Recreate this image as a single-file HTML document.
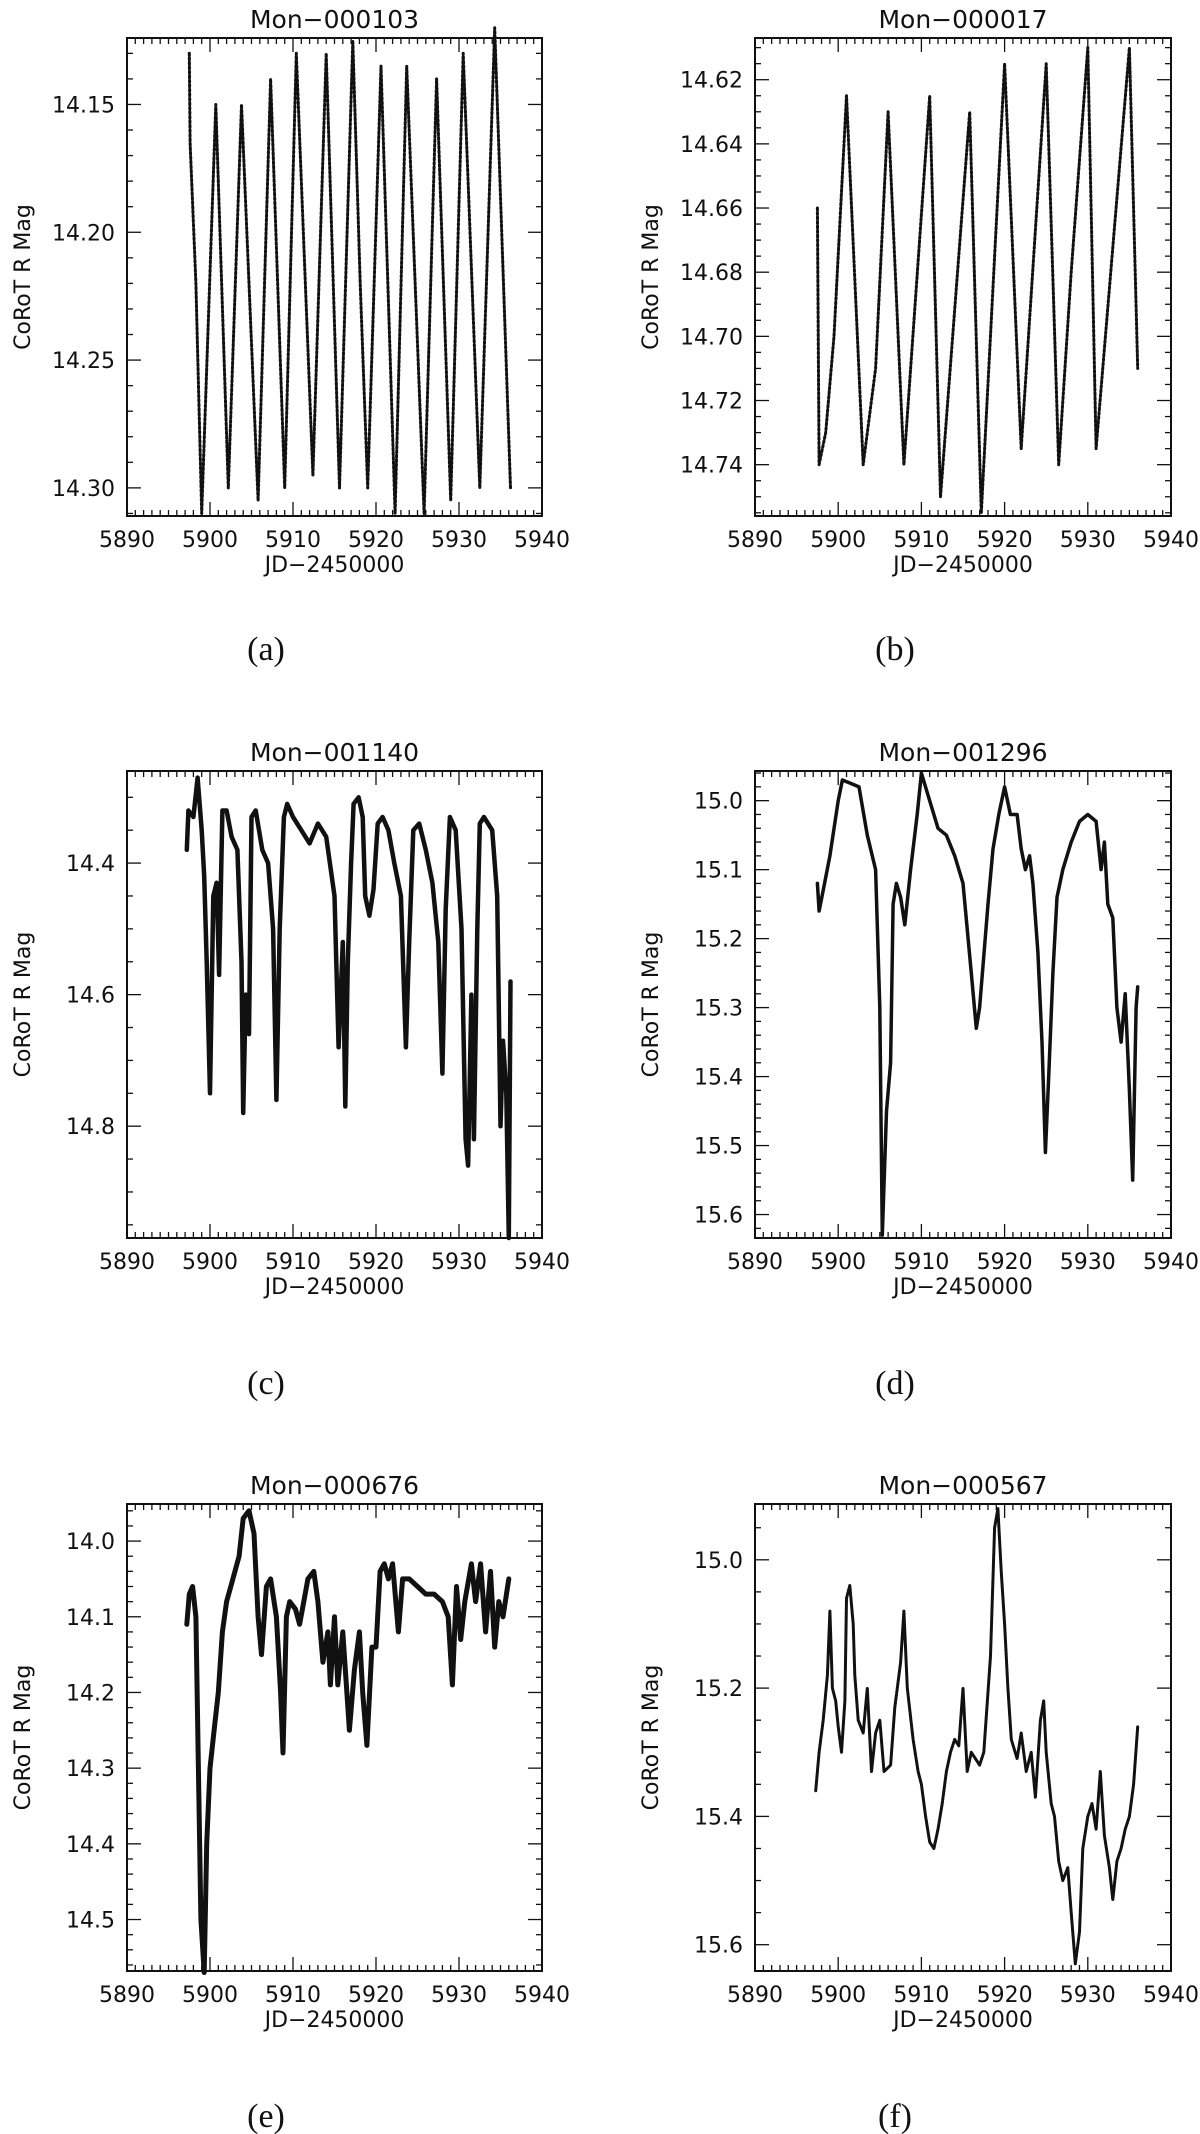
<!DOCTYPE html>
<html><head><meta charset="utf-8"><style>
html,body{margin:0;padding:0;background:#fff;}
svg{display:block;}
text{font-family:"DejaVu Sans","Liberation Sans",sans-serif;fill:#111;}
.cap{font-family:"Liberation Serif",serif;}
</style></head><body>
<svg id="fig" width="1200" height="2134" viewBox="0 0 1200 2134" xmlns="http://www.w3.org/2000/svg"></svg>
<script>
const xTickLabels = [5890,5900,5910,5920,5930,5940];
const panelTitles = ["Mon\u2212000103","Mon\u2212000017","Mon\u2212001140","Mon\u2212001296","Mon\u2212000676","Mon\u2212000567"];
const panelCaptions = ["(a)","(b)","(c)","(d)","(e)","(f)"];
const yTicksA = [14.15,14.20,14.25,14.30];
const yTicksB = [14.62,14.64,14.66,14.68,14.70,14.72,14.74];
const yTicksC = [14.4,14.6,14.8];
const yTicksD = [15.0,15.1,15.2,15.3,15.4,15.5,15.6];
const yTicksE = [14.0,14.1,14.2,14.3,14.4,14.5];
const yTicksF = [15.0,15.2,15.4,15.6];
const timesA = [5897.5,5897.6,5898.3,5899.0,5900.7,5902.2,5903.8,5905.8,5907.3,5909.0,5910.4,5912.4,5914.0,5915.6,5917.2,5918.1,5919.0,5920.6,5922.3,5923.7,5925.8,5927.3,5929.0,5930.5,5932.5,5934.3,5936.2];
const magsA = [14.13,14.165,14.22,14.31,14.15,14.30,14.15,14.305,14.14,14.30,14.13,14.295,14.13,14.30,14.125,14.22,14.30,14.135,14.31,14.135,14.31,14.14,14.305,14.13,14.30,14.12,14.30];
const timesB = [5897.5,5897.7,5898.5,5899.5,5901,5903,5904.5,5906,5907.9,5911,5912.3,5915.8,5917.2,5920,5922,5925,5926.5,5928,5930,5931,5935,5936];
const magsB = [14.66,14.74,14.73,14.70,14.625,14.74,14.71,14.63,14.74,14.625,14.75,14.63,14.755,14.615,14.735,14.615,14.74,14.68,14.61,14.735,14.61,14.71];
const timesC = [5897.2,5897.4,5898.0,5898.5,5899.0,5899.3,5899.6,5900.0,5900.4,5900.8,5901.1,5901.5,5902.0,5902.6,5903.3,5903.8,5904.0,5904.3,5904.7,5905.0,5905.5,5906.3,5907.0,5907.6,5908.0,5908.4,5908.9,5909.3,5910.0,5911.0,5912.0,5913.0,5914.0,5915.0,5915.5,5916.0,5916.3,5916.6,5917.0,5917.3,5917.9,5918.4,5918.7,5919.2,5919.7,5920.2,5920.8,5921.5,5922.2,5923.0,5923.6,5924.0,5924.5,5925.2,5926.0,5926.8,5927.5,5928.0,5928.4,5928.9,5929.6,5930.3,5930.8,5931.1,5931.5,5931.8,5932.2,5932.5,5933.0,5934.0,5934.6,5935.0,5935.3,5935.7,5936.0,5936.2];
const magsC = [14.38,14.32,14.33,14.27,14.35,14.42,14.55,14.75,14.45,14.43,14.57,14.32,14.32,14.36,14.38,14.55,14.78,14.60,14.66,14.33,14.32,14.38,14.40,14.50,14.76,14.50,14.33,14.31,14.33,14.35,14.37,14.34,14.36,14.45,14.68,14.52,14.77,14.55,14.40,14.31,14.30,14.33,14.45,14.48,14.44,14.34,14.33,14.35,14.40,14.45,14.68,14.52,14.35,14.34,14.38,14.43,14.52,14.72,14.47,14.33,14.35,14.50,14.82,14.86,14.60,14.82,14.50,14.34,14.33,14.35,14.45,14.80,14.67,14.75,14.97,14.58];
const timesD = [5897.5,5897.7,5898.2,5899,5900,5900.5,5901.5,5902.5,5903.5,5904.5,5905,5905.3,5905.8,5906.3,5906.6,5907,5907.5,5908,5908.7,5909.5,5910,5911,5912,5913,5914,5915,5916,5916.6,5917,5918,5918.6,5919.3,5920,5920.7,5921.5,5922,5922.5,5923,5923.4,5924,5924.5,5924.9,5925.3,5925.8,5926.3,5927,5928,5929,5930,5931,5931.6,5932,5932.4,5933,5933.5,5934,5934.5,5935,5935.4,5935.8,5936];
const magsD = [15.12,15.16,15.13,15.08,15.00,14.97,14.975,14.98,15.05,15.10,15.30,15.63,15.45,15.38,15.15,15.12,15.14,15.18,15.10,15.02,14.96,15.0,15.04,15.05,15.08,15.12,15.25,15.33,15.30,15.15,15.07,15.02,14.98,15.02,15.02,15.07,15.10,15.08,15.12,15.22,15.35,15.51,15.40,15.25,15.14,15.10,15.06,15.03,15.02,15.03,15.10,15.06,15.15,15.17,15.30,15.35,15.28,15.42,15.55,15.30,15.27];
const timesE = [5897.2,5897.5,5897.9,5898.3,5898.6,5898.9,5899.3,5899.6,5900,5900.5,5901,5901.5,5902,5902.5,5903.5,5904,5904.7,5905.3,5905.8,5906.2,5906.8,5907.3,5908,5908.5,5908.8,5909.2,5909.6,5910.3,5910.8,5911.3,5911.8,5912.5,5913,5913.6,5914.2,5914.5,5915,5915.4,5916,5916.8,5917.4,5918,5918.4,5918.9,5919.5,5920,5920.5,5921,5921.5,5922,5922.7,5923.2,5924,5925,5926,5927,5928,5928.7,5929.2,5929.7,5930.2,5930.7,5931.5,5932,5932.6,5933.2,5933.8,5934.3,5934.8,5935.3,5936];
const magsE = [14.11,14.07,14.06,14.10,14.30,14.50,14.57,14.40,14.30,14.25,14.20,14.12,14.08,14.06,14.02,13.97,13.96,13.99,14.10,14.15,14.06,14.05,14.10,14.20,14.28,14.10,14.08,14.09,14.11,14.08,14.05,14.04,14.08,14.16,14.12,14.19,14.10,14.19,14.12,14.25,14.17,14.12,14.20,14.27,14.14,14.14,14.04,14.03,14.05,14.03,14.12,14.05,14.05,14.06,14.07,14.07,14.08,14.10,14.19,14.06,14.13,14.08,14.03,14.08,14.03,14.12,14.04,14.14,14.08,14.10,14.05];
const timesF = [5897.3,5897.7,5898.2,5898.7,5899,5899.3,5899.7,5900,5900.4,5900.8,5901,5901.4,5901.8,5902,5902.4,5903,5903.5,5904,5904.5,5905,5905.5,5906.3,5906.8,5907.5,5907.9,5908.3,5909,5909.6,5910,5910.5,5911,5911.5,5912,5912.5,5913,5913.5,5914,5914.5,5915,5915.5,5916,5917,5917.5,5918.3,5918.8,5919.2,5919.6,5920,5920.4,5920.8,5921.5,5922,5922.6,5923.2,5923.7,5924.3,5924.7,5925,5925.6,5926,5926.5,5927,5927.6,5928,5928.5,5929,5929.4,5930,5930.5,5931,5931.5,5932,5932.6,5933,5933.5,5934,5934.5,5935,5935.5,5936];
const magsF = [15.36,15.30,15.25,15.18,15.08,15.20,15.22,15.26,15.30,15.22,15.06,15.04,15.10,15.18,15.25,15.27,15.20,15.33,15.27,15.25,15.33,15.32,15.23,15.16,15.08,15.20,15.28,15.33,15.35,15.40,15.44,15.45,15.42,15.38,15.33,15.30,15.28,15.29,15.20,15.33,15.30,15.32,15.30,15.15,14.95,14.92,15.02,15.10,15.20,15.28,15.31,15.27,15.33,15.30,15.37,15.25,15.22,15.30,15.38,15.40,15.47,15.50,15.48,15.55,15.63,15.58,15.45,15.40,15.38,15.42,15.33,15.43,15.48,15.53,15.47,15.45,15.42,15.40,15.35,15.26];

const NS="http://www.w3.org/2000/svg";
const svg=document.getElementById('fig');
function mk(tag,attrs,parent){const e=document.createElementNS(NS,tag);for(const k in attrs)e.setAttribute(k,attrs[k]);(parent||svg).appendChild(e);return e;}

const panels=[
 {x0:127,x1:542,y0:38,y1:516,ymin:14.124,ymax:14.311,ticks:yTicksA,minor:0.01,dec:2,t:timesA,m:magsA,sw:3,dash:"2 2.5",title:0,capX:266,capY:660,lblX:22},
 {x0:755,x1:1171,y0:38,y1:516,ymin:14.607,ymax:14.756,ticks:yTicksB,minor:0.005,dec:2,t:timesB,m:magsB,sw:3,dash:"2 2.5",title:1,capX:895,capY:660,lblX:650},
 {x0:127,x1:542,y0:771,y1:1238,ymin:14.26,ymax:14.97,ticks:yTicksC,minor:0.05,dec:1,t:timesC,m:magsC,sw:4.5,dash:null,title:2,capX:266,capY:1394,lblX:22},
 {x0:755,x1:1171,y0:771,y1:1238,ymin:14.957,ymax:15.634,ticks:yTicksD,minor:0.02,dec:1,t:timesD,m:magsD,sw:3.5,dash:null,title:3,capX:895,capY:1394,lblX:650},
 {x0:127,x1:542,y0:1504,y1:1971,ymin:13.951,ymax:14.568,ticks:yTicksE,minor:0.02,dec:1,t:timesE,m:magsE,sw:5,dash:null,title:4,capX:266,capY:2127,lblX:22},
 {x0:755,x1:1171,y0:1504,y1:1971,ymin:14.913,ymax:15.641,ticks:yTicksF,minor:0.05,dec:1,t:timesF,m:magsF,sw:3,dash:"3 1",title:5,capX:895,capY:2127,lblX:650}
];

panels.forEach((p,i)=>{
  const g=mk('g',{});
  
  
  const xs=v=>p.x0+(v-5890)/50*(p.x1-p.x0);
  const ys=v=>p.y0+(v-p.ymin)/(p.ymax-p.ymin)*(p.y1-p.y0);
  // frame
  const fr=mk('rect',{x:p.x0,y:p.y0,width:p.x1-p.x0,height:p.y1-p.y0,fill:'none',stroke:'#111','stroke-width':2},g);
  
  
  // x ticks
  for(let d=5890;d<=5940;d+=1){
    const X=xs(d),L=(d%10===0)?14:6;
    mk('line',{x1:X,x2:X,y1:p.y1,y2:p.y1-L,stroke:'#111','stroke-width':1.3},g);
    mk('line',{x1:X,x2:X,y1:p.y0,y2:p.y0+L,stroke:'#111','stroke-width':1.3},g);
  }
  xTickLabels.forEach(v=>{
    const t=mk('text',{x:xs(v),y:p.y1+31,'font-size':22,'text-anchor':'middle'},g);
    t.textContent=v;
    
    
  });
  // y ticks
  const n0=Math.ceil(p.ymin/p.minor-1e-6),n1=Math.floor(p.ymax/p.minor+1e-6);
  for(let n=n0;n<=n1;n++){
    const v=n*p.minor,Y=ys(v);
    const major=p.ticks.some(tv=>Math.abs(tv-v)<1e-6);
    const L=major?14:6;
    mk('line',{x1:p.x0,x2:p.x0+L,y1:Y,y2:Y,stroke:'#111','stroke-width':1.3},g);
    mk('line',{x1:p.x1,x2:p.x1-L,y1:Y,y2:Y,stroke:'#111','stroke-width':1.3},g);
  }
  p.ticks.forEach(v=>{
    const t=mk('text',{x:p.x0-12,y:ys(v)+8,'font-size':22,'text-anchor':'end'},g);
    t.textContent=v.toFixed(p.dec);
    
    
  });
  // titles
  const ti=mk('text',{x:(p.x0+p.x1)/2,y:p.y0-10,'font-size':25,'text-anchor':'middle'},g);
  ti.textContent=panelTitles[p.title];
  
  
  const xl=mk('text',{x:(p.x0+p.x1)/2,y:p.y1+56,'font-size':22,'text-anchor':'middle'},g);
  xl.textContent='JD\u22122450000';
  
  
  const yc=(p.y0+p.y1)/2;
  const yl=mk('text',{x:p.lblX,y:yc,'font-size':22,'text-anchor':'middle',transform:`rotate(-90 ${p.lblX} ${yc})`,dy:8},g);
  yl.textContent='CoRoT R Mag';
  
  
  const cp=mk('text',{x:p.capX,y:p.capY,'font-size':34,'text-anchor':'middle',class:'cap'},g);
  cp.textContent=panelCaptions[i];
  
  
  // series
  const pts=p.t.map((tv,k)=>xs(tv).toFixed(1)+','+ys(p.m[k]).toFixed(1)).join(' ');
  const attrs={points:pts,fill:'none',stroke:'#111','stroke-width':p.sw,'stroke-linejoin':'round','stroke-linecap':'round'};
  if(p.dash)attrs['stroke-dasharray']=p.dash;
  const pl=mk('polyline',attrs,g);
  
  
});
</script>
</body></html>
